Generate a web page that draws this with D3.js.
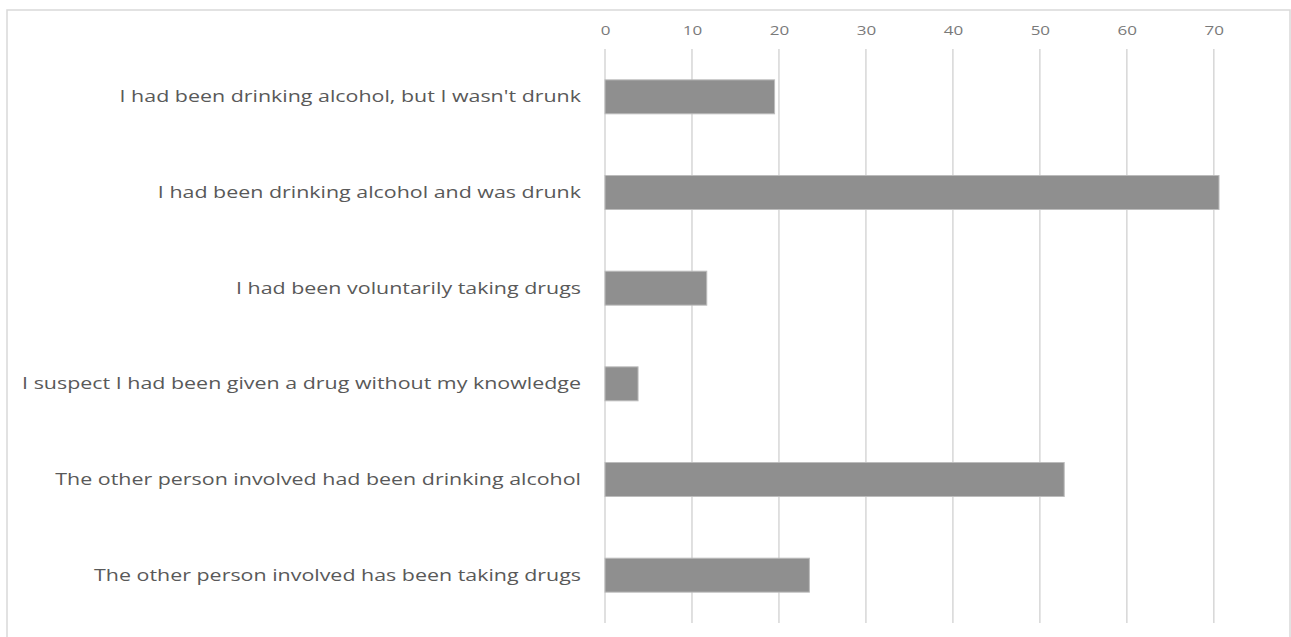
<!DOCTYPE html>
<html>
<head>
<meta charset="utf-8">
<script src="https://cdn.jsdelivr.net/npm/d3@7"></script>
<style>
  html, body { margin: 0; padding: 0; background: #ffffff; }
  svg { display: block; }
</style>
</head>
<body>
<svg id="chart" width="1291" height="637"></svg>
<script>
// Responses: circumstances at the time of the incident
const categories = [
  "I had been drinking alcohol, but I wasn't drunk",
  "I had been drinking alcohol and was drunk",
  "I had been voluntarily taking drugs",
  "I suspect I had been given a drug without my knowledge",
  "The other person involved had been drinking alcohol",
  "The other person involved has been taking drugs"
];
const values = [19.5, 70.6, 11.7, 3.8, 52.8, 23.5];
const tickValues = [0, 10, 20, 30, 40, 50, 60, 70];

const svg = d3.select("#chart");
const W = 1291;
const margin = { top: 49, left: 605 };
const plotBottom = 623;
const fontFamily = "'Open Sans', Lato, sans-serif";
const stretchX = 1.26;   // wide-set lettering

// chart frame (bottom edge falls outside the view)
svg.append("rect")
  .attr("x", 7).attr("y", 10)
  .attr("width", W - 8).attr("height", 700)
  .attr("fill", "none")
  .attr("stroke", "#d9d9d9")
  .attr("stroke-width", 1.5);

const x = d3.scaleLinear()
  .domain([0, 70])
  .range([margin.left, margin.left + 608.8]);

const y = d3.scaleBand()
  .domain(categories)
  .range([margin.top, plotBottom])
  .paddingInner(0.645)
  .paddingOuter(0.3225);

// vertical gridlines
svg.append("g")
  .selectAll("line")
  .data(tickValues)
  .join("line")
  .attr("x1", d => x(d)).attr("x2", d => x(d))
  .attr("y1", margin.top).attr("y2", plotBottom)
  .attr("stroke", "#d9d9d9")
  .attr("stroke-width", 1.6);

// value axis along the top
const xAxis = svg.append("g")
  .attr("transform", `translate(0,${margin.top - 14})`)
  .call(d3.axisTop(x).tickValues(tickValues).tickSize(0).tickPadding(0));
xAxis.select(".domain").remove();
xAxis.selectAll(".tick text")
  .attr("fill", "#7a7a7a")
  .attr("transform", `scale(${stretchX},1)`)
  .style("font-family", fontFamily)
  .style("font-size", "13.5px");

// bars
svg.append("g")
  .selectAll("rect")
  .data(categories.map((c, i) => ({ c, v: values[i] })))
  .join("rect")
  .attr("x", x(0))
  .attr("y", d => y(d.c))
  .attr("width", d => x(d.v) - x(0))
  .attr("height", y.bandwidth())
  .attr("fill", "#8f8f8f")
  .attr("stroke", "#bcbcbc")
  .attr("stroke-width", 1);

// category labels
const yAxis = svg.append("g")
  .attr("transform", `translate(${margin.left - 24},0)`)
  .call(d3.axisLeft(y).tickSize(0).tickPadding(0));
yAxis.select(".domain").remove();
yAxis.selectAll(".tick text")
  .attr("fill", "#595959")
  .attr("transform", `scale(${stretchX},1)`)
  .style("font-family", fontFamily)
  .style("font-size", "17px");
</script>
</body>
</html>
